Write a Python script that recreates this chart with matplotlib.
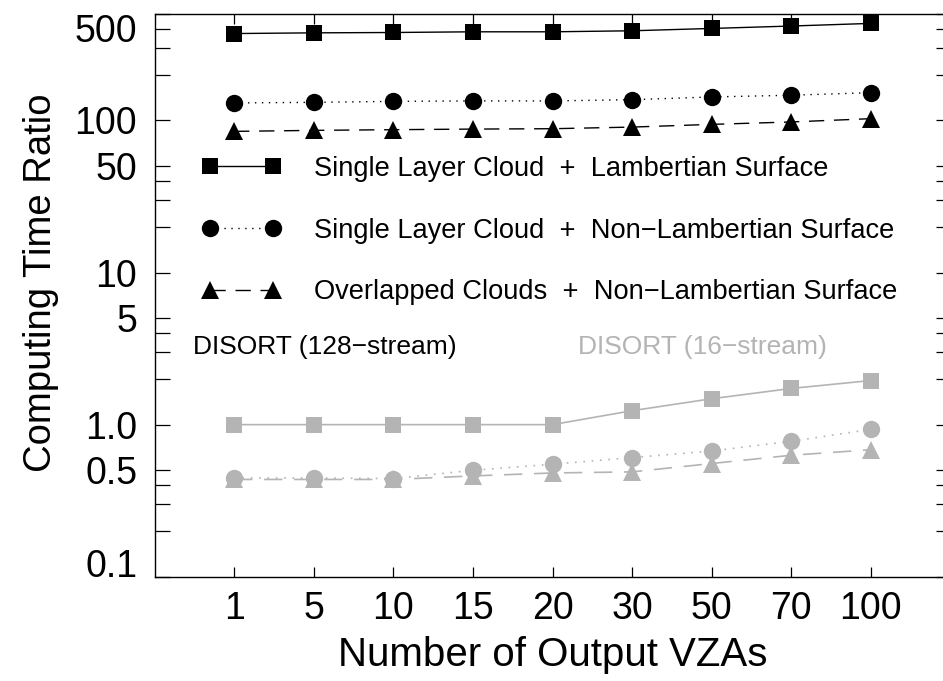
import matplotlib
matplotlib.use("Agg")
import matplotlib.pyplot as plt
from matplotlib.lines import Line2D
from matplotlib.ticker import FixedLocator, FixedFormatter, NullFormatter

plt.rcParams['font.family'] = ['Liberation Sans', 'DejaVu Sans']

# Number of output viewing zenith angles (categorical axis)
vza_labels = ['1', '5', '10', '15', '20', '30', '50', '70', '100']

# Computing time ratio, DISORT (128-stream)
slc_lamb_128 = [373, 377, 379, 383, 383, 389, 403, 418, 435]
slc_nonlamb_128 = [130.5, 131.6, 133.6, 134.5, 134.5, 137, 142.8, 146.6, 152.4]
olc_nonlamb_128 = [84.8, 86.1, 87.0, 87.8, 88.3, 90.5, 94.3, 97.8, 102.8]

# Computing time ratio, DISORT (16-stream)
slc_lamb_16 = [1.0, 1.0, 1.0, 1.0, 1.0, 1.235, 1.48, 1.73, 1.95]
slc_nonlamb_16 = [0.446, 0.446, 0.442, 0.501, 0.549, 0.607, 0.671, 0.777, 0.931]
olc_nonlamb_16 = [0.436, 0.436, 0.436, 0.46, 0.481, 0.489, 0.555, 0.629, 0.684]

series_names = ['Single Layer Cloud  +  Lambertian Surface',
                'Single Layer Cloud  +  Non\u2212Lambertian Surface',
                'Overlapped Clouds  +  Non\u2212Lambertian Surface']

y_major = [0.1, 0.5, 1.0, 5, 10, 50, 100, 500]
y_major_labels = ['0.1', '0.5', '1.0', '5', '10', '50', '100', '500']
y_minor = [0.2, 0.3, 0.4, 2, 3, 4, 20, 30, 40, 200, 300, 400]

GRAY = '#b4b4b4'
BLACK = 'black'

fig = plt.figure(figsize=(9.43, 6.81), dpi=100)
ax = fig.add_axes([154.5 / 943, 104.3 / 681, 796 / 943, 562.5 / 681])

x = list(range(1, len(vza_labels) + 1))

styles = [
    dict(marker='s', linestyle='-', markersize=12),
    dict(marker='o', linestyle=(0, (1, 4)), markersize=12.5),
    dict(marker='^', linestyle=(0, (11, 7)), markersize=13),
]

for vals, st in zip([slc_lamb_16, slc_nonlamb_16, olc_nonlamb_16], styles):
    ax.plot(x, vals, color=GRAY, lw=1.2, mew=0, **st)

for vals, st in zip([slc_lamb_128, slc_nonlamb_128, olc_nonlamb_128], styles):
    ax.plot(x, vals, color=BLACK, lw=1.0, mew=0, **st)

ax.set_yscale('log')
ax.set_ylim(0.1, 500)
ax.set_xlim(0, 10)

ax.set_xticks(x)
ax.set_xticklabels(vza_labels)
ax.yaxis.set_major_locator(FixedLocator(y_major))
ax.yaxis.set_major_formatter(FixedFormatter(y_major_labels))
ax.yaxis.set_minor_locator(FixedLocator(y_minor))
ax.yaxis.set_minor_formatter(NullFormatter())
ax.xaxis.set_minor_locator(FixedLocator([]))

ax.tick_params(axis='y', which='both', direction='in', length=10.8, width=0.9,
               left=True, right=True, labelsize=27, pad=12.5)
ax.tick_params(axis='x', which='both', direction='in', length=7.2, width=0.9,
               top=True, bottom=True, labelsize=27, pad=10.5)
for sp in ax.spines.values():
    sp.set_linewidth(1.0)

ax.set_xlabel('Number of Output VZAs', fontsize=29, labelpad=6)
ax.set_ylabel('Computing Time Ratio', fontsize=27.5)
ax.yaxis.set_label_coords(-0.12, 0.523)

handles = [Line2D([], [], color=BLACK, lw=1.0, mew=0, **st) for st in styles]
leg = ax.legend(handles, series_names, loc='upper left',
                bbox_to_anchor=(0.0597, 0.748), frameon=False, numpoints=2,
                fontsize=19.6, handlelength=2.9, handletextpad=1.22,
                labelspacing=1.31, borderpad=0, borderaxespad=0)

ax.text(0.0484, 0.409, 'DISORT (128\u2212stream)', transform=ax.transAxes,
        fontsize=19, color=BLACK, ha='left', va='center')
ax.text(0.532, 0.409, 'DISORT (16\u2212stream)', transform=ax.transAxes,
        fontsize=19, color=GRAY, ha='left', va='center')

fig.canvas.draw()
for lab in ax.get_yticklabels():
    if lab.get_text() == '500':
        lab.set_verticalalignment('top')
    elif lab.get_text() == '0.1':
        lab.set_verticalalignment('baseline')

fig.savefig('out.png', dpi=100)
